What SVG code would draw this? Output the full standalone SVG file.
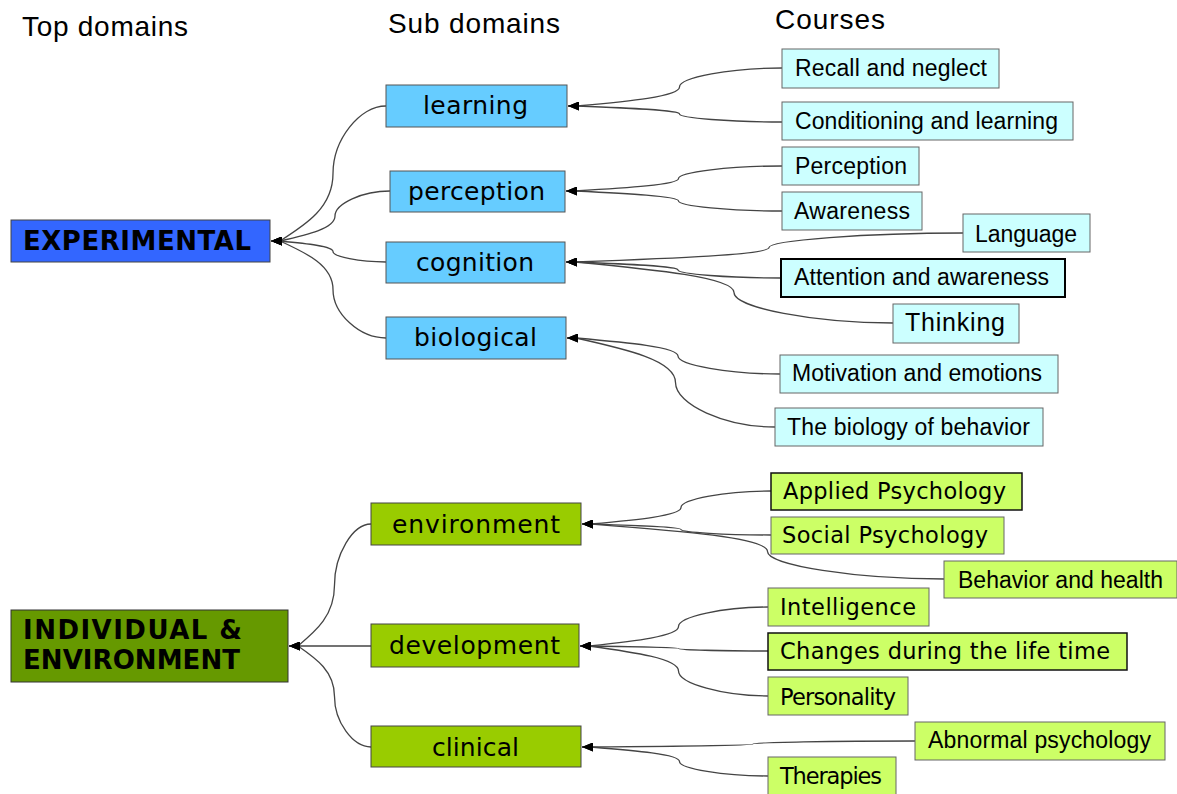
<svg xmlns="http://www.w3.org/2000/svg" width="1177" height="794" viewBox="0 0 1177 794">
<style>
.hdr{font-family:"Liberation Sans",Arial,sans-serif;font-size:28px;fill:#000}
.top{font-family:"DejaVu Sans",Verdana,sans-serif;font-weight:bold;font-size:26px;fill:#000}
.sub{font-family:"DejaVu Sans",Verdana,sans-serif;font-size:25px;fill:#000}
.ca{font-family:"Liberation Sans",Arial,sans-serif;font-size:23px;fill:#000}
.cv{font-family:"DejaVu Sans",Verdana,sans-serif;font-size:22.5px;fill:#000}
.tb{fill:#3366FF;stroke:#444;stroke-width:1}
.tg{fill:#669900;stroke:#333;stroke-width:1}
.sb{fill:#66CCFF;stroke:#555;stroke-width:1}
.sg{fill:#99CC00;stroke:#444;stroke-width:1}
.cb{fill:#CCFFFF;stroke:#666;stroke-width:1}
.cg{fill:#CCFF66;stroke:#666;stroke-width:1}
.dark{stroke:#111;stroke-width:1.5}
.blk{stroke:#000;stroke-width:2}
.con path{fill:none;stroke:#444;stroke-width:1.3;marker-end:url(#arr)}
</style>
<defs>
<marker id="arr" viewBox="0 0 11 9" refX="11" refY="4.5" markerWidth="11" markerHeight="9" markerUnits="userSpaceOnUse" orient="auto">
<path d="M0,0 L11,4.5 L0,9 z" fill="#000"/>
</marker>
</defs>
<rect width="1177" height="794" fill="#fff"/>
<g id="headers">
<text class="hdr" x="22" y="36" textLength="166">Top domains</text>
<text class="hdr" x="388" y="33" textLength="172">Sub domains</text>
<text class="hdr" x="775" y="29" textLength="110">Courses</text>
</g>
<g class="con" id="connectors">
<path d="M386,106 C359.5,106 333,139.75 333,173.5 C333,207.25 306.5,224.1 280,241 L271,241"/>
<path d="M390,191 C362.5,191 335,203.5 335,216 C335,228.5 307.5,234.75 280,241 L271,241"/>
<path d="M386,262 C359.5,262 333,256.75 333,251.5 C333,246.25 306.5,243.6 280,241 L271,241"/>
<path d="M386,338 C359.5,338 333,313.75 333,289.5 C333,265.25 306.5,253.1 280,241 L271,241"/>
<path d="M371,524 C352.75,524 334.5,554.5 334.5,585 C334.5,615.5 316.25,630.75 298,646 L289,646"/>
<path d="M371,646 L289,646"/>
<path d="M371,747 C352.75,747 334.5,721.75 334.5,696.5 C334.5,671.25 316.25,658.6 298,646 L289,646"/>
<path d="M782,68 C730.75,68 679.5,77.5 679.5,87 C679.5,96.5 628.25,101.25 577,106 L568,106"/>
<path d="M782,122 C730.75,122 679.5,118 679.5,114 C679.5,110 628.25,108 577,106 L568,106"/>
<path d="M782,166 C730.25,166 678.5,172.25 678.5,178.5 C678.5,184.75 626.75,187.9 575,191 L566,191"/>
<path d="M782,211 C730.25,211 678.5,206 678.5,201 C678.5,196 626.75,193.5 575,191 L566,191"/>
<path d="M963,233 C866,233 769,240.25 769,247.5 C769,254.75 672,258.4 575,262 L566,262"/>
<path d="M781,278 C729.5,278 678,274 678,270 C678,266 626.5,264 575,262 L566,262"/>
<path d="M893,323 C813.5,323 734,307.75 734,292.5 C734,277.25 654.5,269.6 575,262 L566,262"/>
<path d="M780,374 C729,374 678,365 678,356 C678,347 627,342.5 576,338 L567,338"/>
<path d="M775,427 C725.25,427 675.5,404.75 675.5,382.5 C675.5,360.25 625.75,349.1 576,338 L567,338"/>
<path d="M771,491 C726,491 681,499.25 681,507.5 C681,515.75 636,519.9 591,524 L582,524"/>
<path d="M771,535 C726,535 681,532.25 681,529.5 C681,526.75 636,525.4 591,524 L582,524"/>
<path d="M944,579 C855.75,579 767.5,565.25 767.5,551.5 C767.5,537.75 679.25,530.9 591,524 L582,524"/>
<path d="M768,607 C723.25,607 678.5,616.75 678.5,626.5 C678.5,636.25 633.75,641.1 589,646 L580,646"/>
<path d="M768,651 C723.25,651 678.5,649.75 678.5,648.5 C678.5,647.25 633.75,646.6 589,646 L580,646"/>
<path d="M768,696 C723.25,696 678.5,683.5 678.5,671 C678.5,658.5 633.75,652.25 589,646 L580,646"/>
<path d="M915,741 C834,741 753,742.5 753,744 C753,745.5 672,746.25 591,747 L582,747"/>
<path d="M768,776 C723.75,776 679.5,768.75 679.5,761.5 C679.5,754.25 635.25,750.6 591,747 L582,747"/>
</g>
<g id="experimental"><rect class="tb" x="11" y="220" width="259" height="42"/><text class="top" x="23" y="250" textLength="228">EXPERIMENTAL</text></g>
<g id="individual"><rect class="tg" x="11" y="610" width="277" height="72"/><text class="top" x="23" y="639" textLength="219">INDIVIDUAL &amp;</text><text class="top" x="23" y="669" textLength="217">ENVIRONMENT</text></g>
<g id="learning"><rect class="sb" x="386" y="85" width="181" height="42"/><text class="sub" x="423" y="114" textLength="105">learning</text></g>
<g id="perception"><rect class="sb" x="390" y="171" width="175" height="41"/><text class="sub" x="408" y="200" textLength="137">perception</text></g>
<g id="cognition"><rect class="sb" x="386" y="242" width="179" height="41"/><text class="sub" x="416" y="271" textLength="118">cognition</text></g>
<g id="biological"><rect class="sb" x="386" y="317" width="180" height="42"/><text class="sub" x="414" y="346" textLength="123">biological</text></g>
<g id="environment"><rect class="sg" x="371" y="503" width="210" height="42"/><text class="sub" x="392" y="533" textLength="168">environment</text></g>
<g id="development"><rect class="sg" x="371" y="624" width="208" height="43"/><text class="sub" x="389" y="654" textLength="171">development</text></g>
<g id="clinical"><rect class="sg" x="371" y="726" width="210" height="41"/><text class="sub" x="432" y="756" textLength="87">clinical</text></g>
<g id="recall"><rect class="cb" x="782" y="49" width="217" height="39"/><text class="ca" x="795" y="76" textLength="192">Recall and neglect</text></g>
<g id="conditioning"><rect class="cb" x="782" y="102" width="291" height="38"/><text class="ca" x="795" y="129" textLength="263">Conditioning and learning</text></g>
<g id="perception-c"><rect class="cb" x="782" y="147" width="137" height="38"/><text class="ca" x="795" y="174" textLength="112">Perception</text></g>
<g id="awareness"><rect class="cb" x="782" y="192" width="140" height="38"/><text class="ca" x="794" y="219" textLength="116">Awareness</text></g>
<g id="language"><rect class="cb" x="963" y="214" width="127" height="38"/><text class="ca" x="975" y="242" textLength="102">Language</text></g>
<g id="attention"><rect class="cb blk" x="781" y="259" width="284" height="38"/><text class="ca" x="794" y="285" textLength="255">Attention and awareness</text></g>
<g id="thinking"><rect class="cb" x="893" y="304" width="126" height="39"/><text class="ca" x="905" y="331" textLength="100" style="font-size:25px">Thinking</text></g>
<g id="motivation"><rect class="cb" x="780" y="355" width="278" height="38"/><text class="ca" x="792" y="381" textLength="250">Motivation and emotions</text></g>
<g id="biology"><rect class="cb" x="775" y="408" width="268" height="38"/><text class="ca" x="787" y="435" textLength="243">The biology of behavior</text></g>
<g id="applied"><rect class="cg dark" x="771" y="473" width="251" height="37"/><text class="cv" x="783" y="499" textLength="223">Applied Psychology</text></g>
<g id="social"><rect class="cg" x="771" y="517" width="233" height="37"/><text class="cv" x="782" y="543" textLength="206">Social Psychology</text></g>
<g id="behavior"><rect class="cg" x="944" y="561" width="233" height="37"/><text class="ca" x="958" y="588" textLength="205">Behavior and health</text></g>
<g id="intelligence"><rect class="cg" x="768" y="588" width="161" height="38"/><text class="cv" x="780" y="615" textLength="136">Intelligence</text></g>
<g id="changes"><rect class="cg dark" x="768" y="633" width="359" height="37"/><text class="cv" x="780" y="659" textLength="330">Changes during the life time</text></g>
<g id="personality"><rect class="cg" x="768" y="677" width="140" height="38"/><text class="cv" x="780" y="705" textLength="116">Personality</text></g>
<g id="abnormal"><rect class="cg" x="915" y="722" width="250" height="38"/><text class="ca" x="928" y="748" textLength="223">Abnormal psychology</text></g>
<g id="therapies"><rect class="cg" x="768" y="757" width="128" height="40"/><text class="cv" x="780" y="784" textLength="102">Therapies</text></g>
</svg>
